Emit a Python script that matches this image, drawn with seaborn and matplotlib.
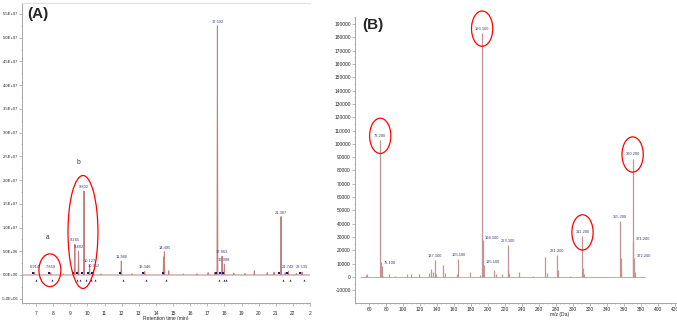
import numpy as np
import pandas as pd
import matplotlib
matplotlib.use("Agg")
import matplotlib.pyplot as plt
from matplotlib.patches import Ellipse
from matplotlib.ticker import FuncFormatter, MultipleLocator
import seaborn as sns

# ---------------- data: panel A (chromatogram) ----------------
peak_rt = [6.914, 7.859, 9.265, 9.482, 9.802, 10.127, 10.352, 11.980, 13.346,
           14.495, 17.592, 17.863, 17.998, 21.307, 21.742, 22.535]
peak_height = [0.6e6, 0.5e6, 6.5e6, 5.0e6, 1.77e7, 2.1e6, 1.0e6, 2.95e6, 0.7e6,
               4.9e6, 5.25e7, 3.95e6, 2.3e6, 1.23e7, 0.8e6, 0.6e6]
peak_label = ["6.914", "7.859", "9.265", "9.482", "9.802", "10.127", "10.352",
              "11.980", "13.346", "14.495", "17.592", "17.863", "17.998",
              "21.307", "21.742", "22.535"]
minor_rt = [8.6, 10.8, 12.6, 14.45, 14.75, 15.6, 16.4, 17.05, 17.45, 18.55,
            19.2, 19.75, 20.5, 20.9, 21.55, 22.2]
minor_height = [0.2e6, 0.2e6, 0.25e6, 3.8e6, 0.9e6, 0.2e6, 0.25e6, 0.5e6, 0.6e6,
                0.4e6, 0.3e6, 0.9e6, 0.5e6, 0.6e6, 0.5e6, 0.3e6]
rt_ticks = list(range(7, 24))
rt_tick_labels = [str(t) for t in range(7, 23)] + ["2"]

# ---------------- data: panel B (mass spectrum) ----------------
mz = [57, 58, 73.2, 74.1, 75.1, 77, 83, 91, 105, 109, 119, 131, 133, 135, 137.1,
      139, 147, 149, 163, 165.1, 179, 191, 193.1, 194.1, 195.1, 207, 209, 217,
      223.1, 224, 225, 237, 253, 267, 269, 281.2, 282, 297, 311.2, 312, 313,
      355.2, 356, 357, 370.2, 371.2, 372.2, 373]
intensity = [1500, 2000, 103000, 11000, 8500, 1000, 2500, 1000, 2000, 2500, 2000,
             3000, 6000, 4000, 12500, 2000, 9000, 3000, 2500, 13500, 4000, 1500,
             183500, 27500, 9000, 5000, 2500, 2000, 23800, 5000, 3000, 3500, 500,
             15200, 3000, 16300, 5000, 1000, 30500, 7000, 2000, 42000, 14000,
             6000, 89000, 26500, 14000, 4000]
mz_label = ["73.200", "75.100", "137.100", "165.100", "193.100", "194.100",
            "195.100", "223.100", "281.200", "311.200", "355.200", "370.200",
            "371.200", "372.200"]
mz_label_pos = [73.2, 75.1, 137.1, 165.1, 193.1, 194.1, 195.1, 223.1, 281.2,
                311.2, 355.2, 370.2, 371.2, 372.2]
side_labels = {"75.100", "194.100", "195.100", "371.200", "372.200"}
circled_mz = [73.2, 193.1, 311.2, 370.2]

sns.set_theme(style="ticks")
plt.rcParams["font.family"] = ["Liberation Sans", "DejaVu Sans"]

W, H = 677, 320
fig = plt.figure(figsize=(W / 100, H / 100), dpi=100)
axA = fig.add_axes([22 / W, 1 - 303 / H, (310 - 22) / W, (303 - 3) / H])
axB = fig.add_axes([355 / W, 1 - 303 / H, (677 - 355) / W, (303 - 17) / H])

line_col = "#c08080"
lab_col = "#3b3b78"
mark_col = "#1c1c6a"
spine_col = "#9a9a9a"

# ---------- panel A ----------
pts = []
for rt, h in list(zip(peak_rt, peak_height)) + list(zip(minor_rt, minor_height)):
    pts.append((rt - 0.025, 0.0))
    pts.append((rt, h))
    pts.append((rt + 0.025, 0.0))
pts.sort(key=lambda p: (p[0]))
xs = [6.2] + [p[0] for p in pts] + [23.0]
ys = [0.0] + [p[1] for p in pts] + [0.0]
dfA = pd.DataFrame({"rt": xs, "signal": ys})
sns.lineplot(data=dfA, x="rt", y="signal", ax=axA, sort=False, estimator=None,
             color=line_col, lw=0.7)

for rt, h, lab in zip(peak_rt, peak_height, peak_label):
    axA.annotate(lab, (rt, max(h, 0.9e6)), xytext=(0, 1.5), textcoords="offset points",
                 ha="center", va="bottom", fontsize=2.9, color=lab_col)
axA.scatter([r - 0.1 for r in peak_rt], [0.35e6] * len(peak_rt), marker="s", s=1.4,
            color=mark_col, zorder=5, linewidths=0)
axA.scatter([r + 0.1 for r in peak_rt], [-1.0e6] * len(peak_rt), marker="^", s=2.2,
            color=mark_col, zorder=5, linewidths=0)

axA.add_patch(Ellipse((7.81, 1.0e6), 1.28, 6.9e6, fill=False, ec="red", lw=0.9,
                      clip_on=False, zorder=6))
axA.add_patch(Ellipse((9.74, 9.06e6), 1.75, 2.38e7, fill=False, ec="red", lw=0.9,
                      clip_on=False, zorder=6))
axA.text(7.70, 7.8e6, "a", fontsize=4.8, ha="center", va="center", color="#333333")
axA.text(9.45, 2.38e7, "b", fontsize=4.8, ha="center", va="center", color="#333333")

axA.set_xlim(6.18, 23.0)
axA.set_ylim(-5.9e6, 5.73e7)
axA.set_xticks(rt_ticks)
axA.set_xticklabels(rt_tick_labels)
axA.xaxis.set_minor_locator(MultipleLocator(0.2))
axA.yaxis.set_major_locator(MultipleLocator(5e6))
axA.yaxis.set_minor_locator(MultipleLocator(2.5e6))
axA.yaxis.set_major_formatter(FuncFormatter(lambda v, p: f"{v:.1E}"))
axA.set_xlabel("Retention time (min)", fontsize=3.6, labelpad=0.5)
axA.set_ylabel("")
axA.tick_params(axis="x", which="major", labelsize=3.5, length=2, width=0.5,
                color=spine_col, pad=3.5)
axA.tick_params(axis="y", which="major", labelsize=3.0, length=2, width=0.5,
                color=spine_col, pad=0.8)
axA.tick_params(axis="both", which="minor", length=1, width=0.4, color=spine_col)
for s in ["left", "bottom"]:
    axA.spines[s].set_color(spine_col)
    axA.spines[s].set_linewidth(0.6)
axA.spines["top"].set_color("#dddddd")
axA.spines["top"].set_linewidth(0.6)
axA.spines["right"].set_visible(False)
fig.text(27 / W, 1 - 14 / H, "(A)", fontsize=11, fontweight="bold", va="center",
         ha="left")

# ---------- panel B ----------
axB.hlines(0, min(mz) - 8, max(mz) + 12, color=line_col, lw=0.5)
axB.vlines(mz, 0, intensity, color="#c49494", lw=0.9)
mz_int = dict(zip(mz, intensity))
for lab, pos in zip(mz_label, mz_label_pos):
    h = mz_int[pos]
    if lab in side_labels:
        axB.annotate(lab, (pos, h), xytext=(1.5, 0.5), textcoords="offset points",
                     ha="left", va="bottom", fontsize=2.9, color=lab_col)
    else:
        axB.annotate(lab, (pos, h), xytext=(0, 1.5), textcoords="offset points",
                     ha="center", va="bottom", fontsize=2.9, color=lab_col)
for pos in circled_mz:
    h = mz_int[pos]
    axB.add_patch(Ellipse((pos, h + 3000), 25, 26500, fill=False, ec="red", lw=0.9,
                          clip_on=False, zorder=6))

axB.set_xlim(43.5, 422.4)
axB.set_ylim(-19500, 195250)
axB.xaxis.set_major_locator(MultipleLocator(20))
axB.xaxis.set_minor_locator(MultipleLocator(5))
axB.yaxis.set_major_locator(MultipleLocator(10000))
axB.yaxis.set_minor_locator(MultipleLocator(5000))
axB.yaxis.set_major_formatter(FuncFormatter(lambda v, p: f"{int(round(v))}"))
axB.set_xlabel("m/z (Da)", fontsize=3.6, labelpad=0)
axB.xaxis.set_label_coords((560 - 355) / 322, -0.03)
axB.tick_params(axis="both", which="major", labelsize=3.5, length=2, width=0.5,
                color=spine_col, pad=1)
axB.tick_params(axis="both", which="minor", length=1, width=0.4, color=spine_col)
for s in ["left", "bottom"]:
    axB.spines[s].set_color(spine_col)
    axB.spines[s].set_linewidth(0.6)
for s in ["top", "right"]:
    axB.spines[s].set_visible(False)
fig.text(362 / W, 1 - 25 / H, "(B)", fontsize=11, fontweight="bold", va="center",
         ha="left")

fig.savefig("out.png", dpi=100)
